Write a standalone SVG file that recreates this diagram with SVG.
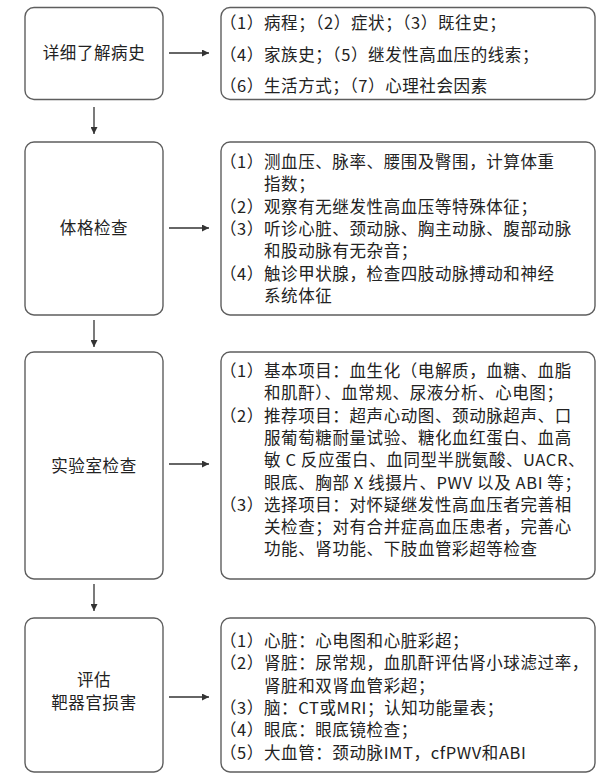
<svg xmlns="http://www.w3.org/2000/svg" width="602" height="780" viewBox="0 0 602 780">
<style>
.box{fill:#fff;stroke:#5e5e5e;stroke-width:1.4}
.t{font-family:"Noto Sans CJK SC","Noto Sans",sans-serif;font-size:16.5px;letter-spacing:0.6px;fill:#222}
.c{text-anchor:middle}
.ln{stroke:#333;stroke-width:1.3;fill:none}
</style>
<defs>
<marker id="ah" viewBox="0 0 10 10" refX="10" refY="5" markerWidth="7" markerHeight="7" markerUnits="userSpaceOnUse" orient="auto">
<path d="M0,0 L10,5 L0,10 z" fill="#333"/>
</marker>
</defs>
<rect width="602" height="780" fill="#fff"/>
<g id="n1">
<rect class="box" x="25" y="7.5" width="138" height="92" rx="9"/>
<text class="t c" x="94" y="59">详细了解病史</text>
</g>
<g id="d1">
<rect class="box" x="221" y="7.5" width="374" height="92" rx="9"/>
<text class="t"><tspan x="220" y="29">（1）病程；（2）症状；（3）既往史；</tspan><tspan x="220" y="61">（4）家族史；（5）继发性高血压的线索；</tspan><tspan x="220" y="92">（6）生活方式；（7）心理社会因素</tspan></text>
</g>
<g id="n2">
<rect class="box" x="25" y="142" width="138" height="173" rx="9"/>
<text class="t c" x="94" y="234">体格检查</text>
</g>
<g id="d2">
<rect class="box" x="221" y="142" width="374" height="173" rx="9"/>
<text class="t"><tspan x="220" y="168">（1）测血压、脉率、腰围及臀围，计算体重</tspan><tspan x="264" y="190.3">指数；</tspan><tspan x="220" y="212.6">（2）观察有无继发性高血压等特殊体征；</tspan><tspan x="220" y="234.9">（3）听诊心脏、颈动脉、胸主动脉、腹部动脉</tspan><tspan x="264" y="257.2">和股动脉有无杂音；</tspan><tspan x="220" y="279.5">（4）触诊甲状腺，检查四肢动脉搏动和神经</tspan><tspan x="264" y="301.8">系统体征</tspan></text>
</g>
<g id="n3">
<rect class="box" x="25" y="352" width="138" height="227" rx="9"/>
<text class="t c" x="94" y="472">实验室检查</text>
</g>
<g id="d3">
<rect class="box" x="221" y="352" width="374" height="227" rx="9"/>
<text class="t"><tspan x="220" y="377">（1）基本项目：血生化（电解质，血糖、血脂</tspan><tspan x="264" y="399.3">和肌酐）、血常规、尿液分析、心电图；</tspan><tspan x="220" y="421.6">（2）推荐项目：超声心动图、颈动脉超声、口</tspan><tspan x="264" y="443.9">服葡萄糖耐量试验、糖化血红蛋白、血高</tspan><tspan x="264" y="466.2">敏 C 反应蛋白、血同型半胱氨酸、UACR、</tspan><tspan x="264" y="488.5">眼底、胸部 X 线摄片、PWV 以及 ABI 等；</tspan><tspan x="220" y="510.8">（3）选择项目：对怀疑继发性高血压者完善相</tspan><tspan x="264" y="533.1">关检查；对有合并症高血压患者，完善心</tspan><tspan x="264" y="555.4">功能、肾功能、下肢血管彩超等检查</tspan></text>
</g>
<g id="n4">
<rect class="box" x="25" y="618" width="138" height="154" rx="9"/>
<text class="t c"><tspan x="94" y="686">评估</tspan><tspan x="94" y="709">靶器官损害</tspan></text>
</g>
<g id="d4">
<rect class="box" x="221" y="618" width="374" height="154" rx="9"/>
<text class="t"><tspan x="220" y="647">（1）心脏：心电图和心脏彩超；</tspan><tspan x="220" y="669.3">（2）肾脏：尿常规，血肌酐评估肾小球滤过率，</tspan><tspan x="264" y="691.6">肾脏和双肾血管彩超；</tspan><tspan x="220" y="713.9">（3）脑：CT或MRI；认知功能量表；</tspan><tspan x="220" y="736.2">（4）眼底：眼底镜检查；</tspan><tspan x="220" y="758.5">（5）大血管：颈动脉IMT，cfPWV和ABI</tspan></text>
</g>
<g id="connectors">
<line class="ln" x1="169" y1="53" x2="209" y2="53" marker-end="url(#ah)"/>
<line class="ln" x1="169" y1="228" x2="209" y2="228" marker-end="url(#ah)"/>
<line class="ln" x1="169" y1="464" x2="209" y2="464" marker-end="url(#ah)"/>
<line class="ln" x1="169" y1="697" x2="209" y2="697" marker-end="url(#ah)"/>
<line class="ln" x1="94" y1="107" x2="94" y2="134" marker-end="url(#ah)"/>
<line class="ln" x1="94" y1="320" x2="94" y2="347" marker-end="url(#ah)"/>
<line class="ln" x1="94" y1="584" x2="94" y2="611" marker-end="url(#ah)"/>
</g>
</svg>
